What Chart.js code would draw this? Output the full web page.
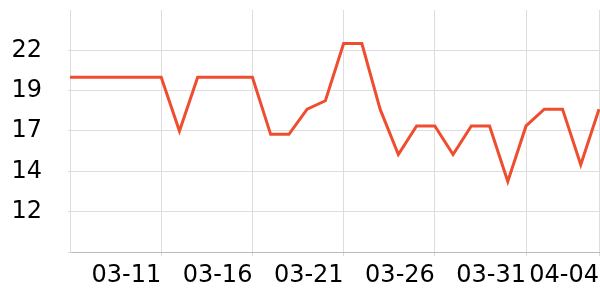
<!DOCTYPE html>
<html>
<head>
<meta charset="utf-8">
<script src="https://cdn.jsdelivr.net/npm/chart.js@4"></script>
<style>
  html, body { margin: 0; padding: 0; background: #fff; }
  #wrap { width: 600px; height: 300px; }
</style>
</head>
<body>
<div id="wrap"><canvas id="lineChart"></canvas></div>
<script>
// dates (one point per day)
const dates = [
  '03-06', '03-07', '03-08', '03-09', '03-10', '03-11', '03-12', '03-13', '03-14', '03-15',
  '03-16', '03-17', '03-18', '03-19', '03-20', '03-21', '03-22', '03-23', '03-24', '03-25',
  '03-26', '03-27', '03-28', '03-29', '03-30', '03-31', '04-01', '04-02', '04-03', '04-04'
];
const values = [
  20, 20, 20, 20, 20, 20, 16.8, 20, 20, 20,
  20, 16.6, 16.6, 18.1, 18.6, 22, 22, 18.1, 15.4, 17.1,
  17.1, 15.4, 17.1, 17.1, 13.8, 17.1, 18.1, 18.1, 14.8, 18.1
];
// labels shown on the x axis
const shownDates = ['03-11', '03-16', '03-21', '03-26', '03-31', '04-04'];
// y axis
const yMin = 9.6;
const yMax = 24;
const yStep = 2.4;

const ctx = document.getElementById('lineChart').getContext('2d');
new Chart(ctx, {
  type: 'line',
  data: {
    labels: dates,
    datasets: [{
      data: values,
      borderColor: '#ef4d2f',
      borderWidth: 3,
      pointRadius: 0,
      tension: 0,
      fill: false
    }]
  },
  options: {
    responsive: true,
    maintainAspectRatio: false,
    animation: false,
    layout: { padding: { top: 10, right: 1, left: 0, bottom: 0 } },
    plugins: {
      legend: { display: false },
      tooltip: { enabled: false }
    },
    scales: {
      x: {
        type: 'category',
        offset: false,
        border: { color: '#bbbbbb', width: 1 },
        grid: { color: '#dddddd', tickLength: 4 },
        afterFit(scale) {
          scale.height = 48;
          scale.paddingLeft = 0;
          scale.paddingRight = 0;
        },
        ticks: {
          autoSkip: false,
          maxRotation: 0,
          align: 'end',
          padding: 5,
          color: '#000',
          font: { family: 'DejaVu Sans', size: 24 },
          callback(val) {
            const d = dates[val];
            return shownDates.includes(d) ? d : null;
          }
        }
      },
      y: {
        min: yMin,
        max: yMax,
        border: { color: '#dddddd', width: 1 },
        grid: {
          tickLength: 2,
          color(c) {
            return c.tick && c.tick.value >= yMax ? 'rgba(0,0,0,0)' : '#dddddd';
          }
        },
        afterFit(scale) {
          scale.width = 70;
          scale.paddingTop = 0;
          scale.paddingBottom = 0;
        },
        ticks: {
          stepSize: yStep,
          padding: 26,
          color: '#000',
          font: { family: 'DejaVu Sans', size: 24 },
          callback(v) {
            if (v <= yMin || v >= yMax) return '';
            return Math.round(v);
          }
        }
      }
    }
  }
});
</script>
</body>
</html>
